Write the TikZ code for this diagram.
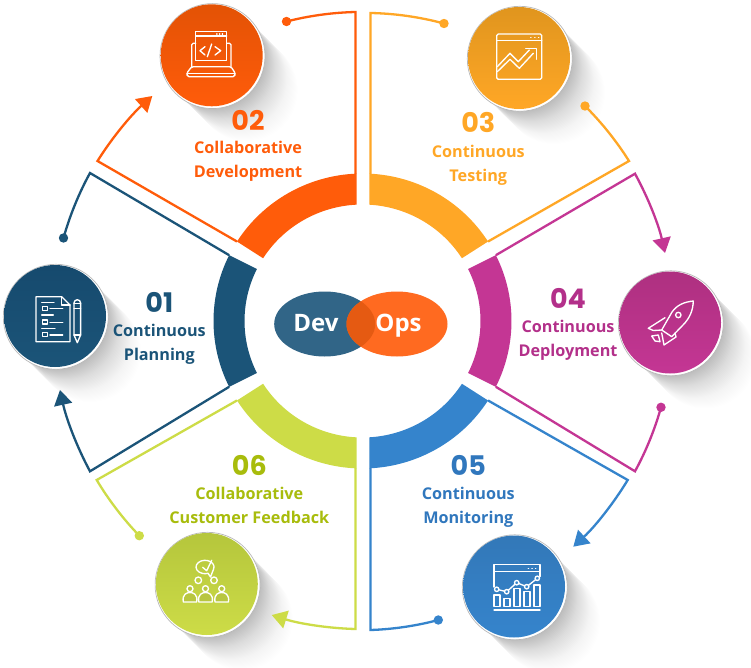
\documentclass[tikz,border=0pt]{standalone}
\usepackage{fontspec}
\setmainfont{Open Sans}
\newfontfamily\numfont{Poppins}
\usetikzlibrary{calc,arrows.meta,shapes.geometric}
\definecolor{cnavy}{HTML}{1B5478}\definecolor{cnavyd}{HTML}{164A6E}
\definecolor{corange}{HTML}{FF5C0A}\definecolor{coranged}{HTML}{E35205}
\definecolor{cyellow}{HTML}{FFA726}\definecolor{cyellowd}{HTML}{E0951E}
\definecolor{cmag}{HTML}{C43694}\definecolor{cmagd}{HTML}{AE3080}
\definecolor{cblue}{HTML}{3584CC}\definecolor{cblued}{HTML}{3378B8}
\definecolor{clime}{HTML}{CDDC47}\definecolor{climed}{HTML}{B5C63C}
\definecolor{tmag}{HTML}{B3308A}\definecolor{tblue}{HTML}{3077BD}\definecolor{tlime}{HTML}{A8BC0C}
\definecolor{cdev}{HTML}{316587}\definecolor{cops}{HTML}{FF6A20}\definecolor{cboth}{HTML}{E55A12}
\tikzset{
  conn/.style={line width=2.3pt,line join=miter},
  tipped/.style={conn,-{Triangle[length=15pt,width=18pt]}},
  enddot/.style={circle,inner sep=0pt,minimum size=9.4pt},
  badge/.style={circle,inner sep=0pt,minimum size=102pt,shading angle=45},
  backing/.style={circle,inner sep=0pt,minimum size=105pt,fill=white,draw=black!28,line width=.7pt},
  numlabel/.style={anchor=base,inner sep=0pt,font=\numfont\fontsize{27}{30}\selectfont\bfseries},
  textlabel/.style={align=center,inner sep=0pt,font=\fontsize{16.2}{24}\selectfont\bfseries},
  logotext/.style={anchor=base,inner sep=0pt,text=white,font=\fontsize{24}{26}\selectfont\bfseries},
  icon/.style={draw=white,line width=1.35pt,line join=round,line cap=round},
  venn/.style={ellipse,inner sep=0pt,minimum width=101pt,minimum height=65pt}
}
\newcommand\ringpart[5]{\fill[#1] ($(C)+(#2:149pt and 147.5pt)$) arc[start angle=#2,end angle=#3,x radius=149pt,y radius=147.5pt]
  -- ($(C)+(#5:118pt and 116.5pt)$) arc[start angle=#5,end angle=#4,x radius=118pt,y radius=116.5pt] -- cycle;}
\newcommand\longshadow[2]{\foreach \i in {1,...,40}{\pgfmathsetmacro\op{.014-\i*.00033}\fill[black,opacity=\op] ($(#1,#2)+(\i pt,-\i pt)$) circle[radius=51pt];}}
\begin{document}
\begin{tikzpicture}[x=1pt,y=-1pt]
\useasboundingbox (0,0) rectangle (751,668);
\fill[white] (0,0) rectangle (751,668);
\coordinate (C) at (362.5,321);
% long shadows
\longshadow{55}{316}\longshadow{211.7}{55.3}\longshadow{519}{58}\longshadow{670}{322.5}\longshadow{514}{586.5}\longshadow{206.8}{584}
% ring
\ringpart{corange}{92.23}{147.4}{92.8}{147.4}
\ringpart{cyellow}{87.38}{32.6}{86.7}{32.6}
\ringpart{cmag}{26.5}{-26.5}{26.5}{-26.5}
\ringpart{cblue}{-32.6}{-87.38}{-32.6}{-86.7}
\ringpart{clime}{-92.23}{-147.4}{-92.8}{-147.4}
\ringpart{cnavy}{153.5}{206.5}{153.5}{206.5}
% corners where the lines leave the ring
\coordinate (navyA) at ($(C)+(153.5:149pt and 147.5pt)$);
\coordinate (navyB) at ($(C)+(206.5:149pt and 147.5pt)$);
\coordinate (orA) at ($(C)+(147.4:149pt and 147.5pt)$);
\coordinate (orB) at (355.5,174);
\coordinate (yeA) at (370.5,174);
\coordinate (yeB) at ($(C)+(32.6:149pt and 147.5pt)$);
\coordinate (maA) at ($(C)+(26.5:149pt and 147.5pt)$);
\coordinate (maB) at ($(C)+(-26.5:149pt and 147.5pt)$);
\coordinate (blA) at ($(C)+(-32.6:149pt and 147.5pt)$);
\coordinate (blB) at (370.5,468);
\coordinate (liA) at (355.5,468);
\coordinate (liB) at ($(C)+(-147.4:149pt and 147.5pt)$);
% elbows
\coordinate (navyE1) at (90,173);\coordinate (navyE2) at (90,471.3);
\coordinate (orE1) at (97.5,161);\coordinate (orE2) at (355.5,12);
\coordinate (yeE1) at (370.5,13);\coordinate (yeE2) at (629,161);
\coordinate (maE1) at (635,173.7);\coordinate (maE2) at (635,471.3);
\coordinate (blE1) at (627.7,480);\coordinate (blE2) at (370.5,630);
\coordinate (liE1) at (355.5,629);\coordinate (liE2) at (96.7,480);
% arrow tips
\coordinate (orT) at (152.3,96);\coordinate (maT) at (665,253);
\coordinate (blT) at (573.3,546.7);\coordinate (liT) at (271.7,615);
\coordinate (navyT) at (60,390);
% end dots
\node[enddot,fill=cnavy] (navyD) at (63.5,238) {};
\node[enddot,fill=corange] (orD) at (286.5,21.5) {};
\node[enddot,fill=cyellow] (yeD1) at (444,23.5) {};
\node[enddot,fill=cyellow] (yeD2) at (585,106) {};
\node[enddot,fill=cmag] (maD) at (661,407.3) {};
\node[enddot,fill=cblue] (blD) at (438.3,620) {};
\node[enddot,fill=clime] (liD) at (139.3,535.7) {};
% connectors
\draw[conn,cnavy] (navyA) -- (navyE1) to[bend right=6.5,looseness=.85] (navyD.center);
\draw[tipped,cnavy] (navyB) -- (navyE2) to[bend left=8,looseness=.85] (navyT);
\draw[tipped,corange] (orA) -- (orE1) to[bend left=8,looseness=.85] (orT);
\draw[conn,corange] (orB) -- (orE2) to[bend right=6.5,looseness=.85] (orD.center);
\draw[conn,cyellow] (yeA) -- (yeE1) to[bend left=7,looseness=.85] (yeD1.center);
\draw[conn,cyellow] (yeB) -- (yeE2) to[bend right=6.5,looseness=.85] (yeD2.center);
\draw[tipped,cmag] (maA) -- (maE1) to[bend left=8,looseness=.85] (maT);
\draw[conn,cmag] (maB) -- (maE2) to[bend right=6.5,looseness=.85] (maD.center);
\draw[tipped,cblue] (blA) -- (blE1) to[bend left=8,looseness=.85] (blT);
\draw[conn,cblue] (blB) -- (blE2) to[bend right=6.5,looseness=.85] (blD.center);
\draw[tipped,clime] (liA) -- (liE1) to[bend left=8,looseness=.85] (liT);
\draw[conn,clime] (liB) -- (liE2) to[bend right=6.5,looseness=.85] (liD.center);
% badges
\node[backing] (b1) at (55.8,316.8) {};
\node[badge,top color=cnavyd,bottom color=cnavy] (c1) at (55,316) {};
\node[backing] (b2) at (212.5,56.1) {};
\node[badge,top color=coranged,bottom color=corange] (c2) at (211.7,55.3) {};
\node[backing] (b3) at (519.8,58.8) {};
\node[badge,top color=cyellowd,bottom color=cyellow] (c3) at (519,58) {};
\node[backing] (b4) at (670.8,323.3) {};
\node[badge,top color=cmagd,bottom color=cmag] (c4) at (670,322.5) {};
\node[backing] (b5) at (514.8,587.3) {};
\node[badge,top color=cblued,bottom color=cblue] (c5) at (514,586.5) {};
\node[backing] (b6) at (207.6,584.8) {};
\node[badge,top color=climed,bottom color=clime] (c6) at (206.8,584) {};
% venn
\node[venn,fill=cdev] (dev) at (324.7,324) {};
\node[venn,fill=cops] (ops) at (397,324) {};
\begin{scope}
\clip (324.7,324) ellipse[x radius=50.5pt,y radius=32.5pt];
\fill[cboth] (397,324) ellipse[x radius=50.5pt,y radius=32.5pt];
\end{scope}
\node[logotext] (devt) at (316,331.5) {Dev};
\node[logotext] (opst) at (398.5,331.5) {Ops};
% labels
\node[numlabel,text=cnavy] (n1) at (159.3,312) {01};
\node[textlabel,text=cnavy] (t1) at (159.3,343.2) {\strut Continuous\\\strut Planning};
\node[numlabel,text=corange] (n2) at (248,130.3) {02};
\node[textlabel,text=corange] (t2) at (248,161.2) {\strut Collaborative\\\strut Development};
\node[numlabel,text=cyellow] (n3) at (478.3,132.3) {03};
\node[textlabel,text=cyellow] (t3) at (478.3,164.9) {\strut Continuous\\\strut Testing};
\node[numlabel,text=tmag] (n4) at (568,308.3) {04};
\node[textlabel,text=tmag] (t4) at (568,339.9) {\strut Continuous\\\strut Deployment};
\node[numlabel,text=tblue] (n5) at (468.3,475) {05};
\node[textlabel,text=tblue] (t5) at (468.3,506.5) {\strut Continuous\\\strut Monitoring};
\node[numlabel,text=tlime] (n6) at (249.3,475) {06};
\node[textlabel,text=tlime] (t6) at (249.3,506.5) {\strut Collaborative\\\strut Customer Feedback};
% icon 01
\begin{scope}[icon]
\draw (36,296.7) -- (61.7,296.7) -- (70,305) -- (70,341.7) -- (36,341.7) -- cycle;
\draw (61.7,296.7) -- (61.7,305) -- (70,305);
\draw (41.7,302.3) -- (54,302.3);
\draw (42.7,306.7) rectangle (47.3,310.7);\draw (50,308.7) -- (62.7,308.7);
\draw (41.7,315) -- (53.3,315);
\draw (42.7,320) rectangle (47.3,324);\draw (50,322.3) -- (62.7,322.3);
\draw (41.7,328.3) -- (55,328.3);
\draw (42.7,332.7) rectangle (47.3,336.7);\draw (50,335) -- (62.7,335);
\draw (74,303) arc[start angle=180,end angle=0,radius=3.3pt] -- (80.6,335) -- (77.3,342.7) -- (74,335) -- cycle;
\draw (74,303.5) -- (80.6,303.5);\draw (74,308.3) -- (80.6,308.3);\draw (74,335) -- (80.6,335);
\end{scope}
% icon 02
\begin{scope}[icon]
\draw (195.7,43) -- (195.7,31.7) -- (226.7,31.7) -- (226.7,60.5) -- (195.7,60.5) -- (195.7,43);
\draw (195.7,35.9) -- (226.7,35.9);
\draw (216.7,34) -- (217,34);\draw (219.5,34) -- (219.8,34);\draw (222.3,34) -- (222.6,34);
\draw[rounded corners=1.5pt] (195.7,43.3) -- (191.7,43.3) -- (191.7,66.7);
\draw[rounded corners=1.5pt] (226.7,43.3) -- (231,43.3) -- (231,66.7);
\draw[rounded corners=1.5pt] (191.7,66.7) -- (186.7,73.3) -- (187.5,76.7) -- (234.5,76.7) -- (235.3,73.3) -- (231,66.7) -- cycle;
\draw (186.9,73.3) -- (235.1,73.3);
\draw (205,46.7) -- (200,50.7) -- (205,55);
\draw (211.7,44) -- (207.3,56.7);
\draw (215,46.7) -- (220.7,50.7) -- (215,55);
\end{scope}
% icon 03
\begin{scope}[icon]
\draw[rounded corners=1.5pt] (496.7,34) rectangle (541.7,79.3);
\draw (496.7,40.7) -- (541.7,40.7);
\draw (530.7,37.3) -- (531,37.3);\draw (534.7,37.3) -- (535,37.3);\draw (538.5,37.3) -- (538.8,37.3);
\draw (497.3,66.7) -- (510,53.3) -- (518.3,61.7) -- (529.3,50);
\draw (525.7,48.3) -- (536.7,48.3) -- (536.7,59.3);
\draw (497.3,71.7) -- (510,59.3) -- (519.3,68.3) -- (533.3,53.3);
\end{scope}
% icon 04
\begin{scope}[icon]
\draw (693.3,301) .. controls (684,302) and (677,305) .. (672,312) -- (661.7,330) -- (671.7,336.7) -- (683,325) .. controls (690,318) and (693,310) .. (693.3,301) -- cycle;
\draw (665,317.7) -- (648.3,328.3) -- (653.3,330.5) -- (661.7,330);
\draw (675,333) -- (676,337) -- (664,345) -- (661.7,333);
\draw (651.7,336) -- (658.3,335) -- (660,341.7) -- (655,341) -- cycle;
\draw (678.3,315) circle[radius=2.7pt];
\end{scope}
% icon 05
\begin{scope}[icon]
\draw (494,587) -- (494,564.3) -- (540,564.3) -- (540,576.5);
\draw (494,571.7) -- (540,571.7);
\draw (528.3,568.3) -- (528.6,568.3);\draw (531.9,568.3) -- (532.2,568.3);\draw (535.5,568.3) -- (535.8,568.3);
\draw (494,595) rectangle (500,606.7);
\draw (504,598.3) rectangle (510,606.7);
\draw (514,588.3) rectangle (520,606.7);
\draw (524,591.7) rectangle (530,606.7);
\draw (534,585) rectangle (540,606.7);
\draw (494,610) -- (540,610);
\draw (496.7,589.3) -- (506.7,591.7) -- (516.7,582.7) -- (526.7,586.7) -- (537.3,578.3);
\foreach \p in {(496.7,589.3),(506.7,591.7),(516.7,582.7),(526.7,586.7),(537.3,578.3)}{\filldraw[fill=cblue] \p circle[radius=2.2pt];}
\end{scope}
% icon 06
\begin{scope}[icon]
\draw (213.5,569.3) arc[start angle=-20,end angle=290,x radius=9pt,y radius=6.7pt] -- (210.5,577) -- cycle;
\draw (202.7,567.3) -- (206.7,570.7) -- (211.7,560.3);
\draw (198.3,580.3) circle[radius=3.3pt];\draw (214,580.3) circle[radius=3.3pt];
\foreach \q in {190,205.5,221.7}{
  \filldraw[fill=clime!90!black] (\q,588.7) circle[radius=3pt];
  \draw[fill=clime!90!black] (\q-6.7,602) .. controls (\q-8,594) and (\q-3,592.5) .. (\q,592.5) .. controls (\q+3,592.5) and (\q+8,594) .. (\q+6.7,602) -- cycle;
}
\end{scope}
\end{tikzpicture}
\end{document}
